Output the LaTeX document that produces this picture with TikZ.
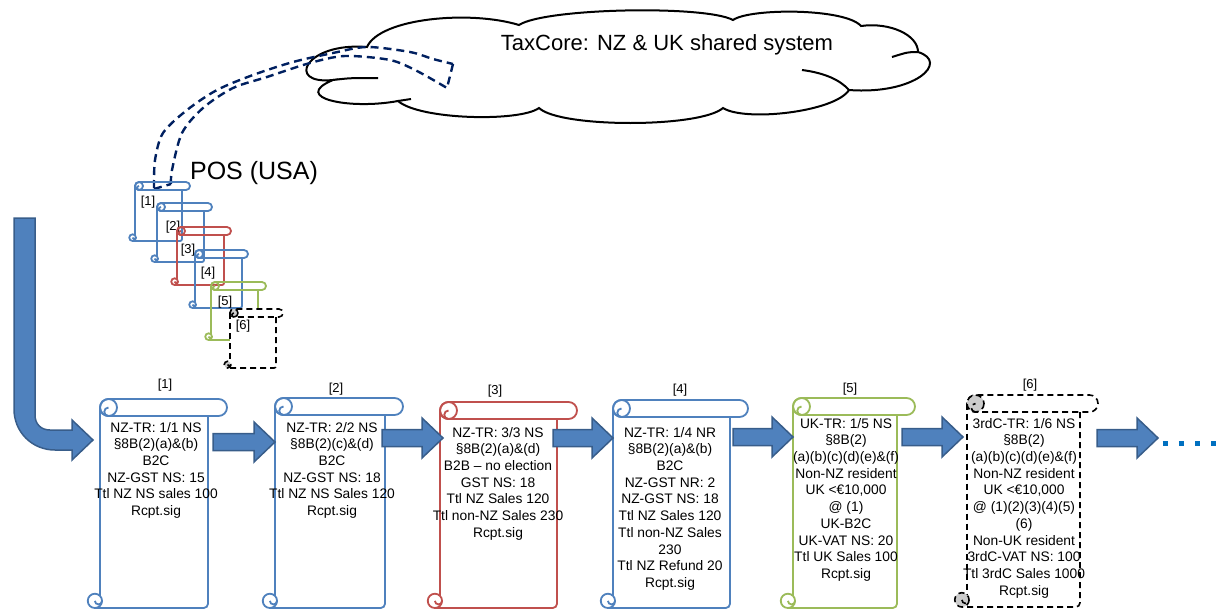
\documentclass[tikz,border=0pt]{standalone}
\usepackage{fontspec}
\setmainfont{Liberation Sans}
\usetikzlibrary{calc}
\definecolor{sblue}{RGB}{79,129,189}
\definecolor{sred}{RGB}{192,80,77}
\definecolor{sgreen}{RGB}{155,187,89}
\definecolor{aborder}{RGB}{56,93,138}
\definecolor{navy}{RGB}{0,32,96}
\definecolor{dotblue}{RGB}{0,112,192}
% #1 draw style, #2 fill, #3 L, #4 R (roll right), #5 B (body right), #6 T, #7 Bo, #8 h, #9 curl fill
\newcommand\myscroll[9]{%
  \pgfmathsetmacro\sr{#8/2}%
  \pgfmathsetmacro\rc{0.42*#8}%
  \pgfmathsetmacro\co{0.3*#8}%
  \pgfmathsetmacro\rb{0.25*#8}%
  \pgfmathsetmacro\ye{#7-\rc-sqrt(\rc*\rc-\co*\co)}%
  \path[fill=#2] ({#3},{#6+\sr}) rectangle ({#5},{#7});
  \path[fill=#2,rounded corners=\sr pt] ({#3},{#6}) rectangle ({#4},{#6+#8});
  \draw[#1,rounded corners=\rb pt] ({#5},{#6+#8}) -- ({#5},{#7}) -- ({#3-\co},{#7});
  \draw[#1] ({#3},{#6+\sr}) -- ({#3},{\ye});
  \draw[#1,rounded corners=\sr pt] ({#3},{#6}) rectangle ({#4},{#6+#8});
  \draw[#1,fill=#9] ({#3+\sr},{#6+\sr}) circle[radius=\sr];
  \draw[#1] ({#3+\sr},{#6+#8}) arc[start angle=90,end angle=270,radius=\sr/2];
  \draw[#1,fill=#9] ({#3-\co},{#7-\rc}) circle[radius=\rc];
  \draw[#1] ({#3-\co},{#7-\rc}) arc[start angle=180,end angle=0,radius=\rc/2];
}
\newcommand\blockarrow[2]{%
  \draw[blockarr] ($(#1)+(0,-8.5)$) -- ($(#2)+(-21,-8.5)$) -- ($(#2)+(-21,-20)$) -- (#2)
    -- ($(#2)+(-21,20)$) -- ($(#2)+(-21,8.5)$) -- ($(#1)+(0,8.5)$) -- cycle;}
\begin{document}
\begin{tikzpicture}[x=1pt,y=-1pt,
  bsc/.style={draw=sblue,line width=1.8pt},
  rsc/.style={draw=sred,line width=1.8pt},
  gsc/.style={draw=sgreen,line width=1.8pt},
  dsc/.style={draw=black,line width=1.6pt,dash pattern=on 6pt off 4pt},
  blockarr/.style={fill=sblue,draw=aborder,line width=1.5pt,line join=miter},
  stext/.style={font=\fontsize{13.8}{16.7}\selectfont,align=center,inner sep=0pt,anchor=north},
  lbl/.style={font=\fontsize{13}{15}\selectfont,inner sep=0pt},
  cloudst/.style={draw=black,line width=2pt},
  navyd/.style={draw=navy,line width=2.4pt,dash pattern=on 8pt off 5pt}]
\useasboundingbox (0,0) rectangle (1222,610);
% cloud
\coordinate (j1) at (333,80); \coordinate (j2) at (367,47); \coordinate (j3) at (519,25);
\coordinate (j4) at (733,20); \coordinate (j5) at (861,26); \coordinate (j6) at (918,52);
\coordinate (j7) at (849,90); \coordinate (j8) at (723,108); \coordinate (j9) at (539,108);
\coordinate (j10) at (398,101);
\draw[cloudst,fill=white] (j1) .. controls (285,85) and (305,42) .. (j2)
  .. controls (380,18) and (470,10) .. (j3)
  .. controls (545,8) and (705,5) .. (j4)
  .. controls (750,8) and (845,8) .. (j5)
  .. controls (890,22) and (918,35) .. (j6)
  .. controls (950,62) and (915,95) .. (j7)
  .. controls (835,112) and (745,122) .. (j8)
  .. controls (700,128) and (560,128) .. (j9)
  .. controls (520,122) and (420,120) .. (j10)
  .. controls (350,110) and (290,98) .. (j1) -- cycle;
\draw[cloudst] (j1) .. controls (350,78) .. (378,78);
\draw[cloudst] (j10) -- (411,99);
\draw[cloudst] (j7) .. controls (840,80) and (825,73) .. (802,70);
\draw[cloudst] (j6) .. controls (908,52) .. (892,57);
\node[font=\fontsize{22}{26}\selectfont,inner sep=0pt] (tc) at (667,45) {TaxCore: NZ \& UK shared system};
% dashed curved arrow
\draw[navyd] plot[smooth] coordinates {(154,188) (155,160) (163,133) (187,110) (217,90) (253,75) (293,62) (333,53) (367,47) (410,52) (433,59) (453,64)};
\draw[navyd] plot[smooth] coordinates {(171,184) (172,170) (182,133) (203,108) (233,88) (267,77) (310,63) (345,56) (390,60) (417,71) (447,88)};
\draw[navyd] (453,64) -- (447,88);
\draw[navyd] (154,189) -- (171,184);
\node[font=\fontsize{25}{30}\selectfont,inner sep=0pt] (pos) at (254,173) {POS (USA)};
% small scroll stack
\myscroll{bsc}{none}{135}{190}{182}{182}{241}{8}{none}
\node[lbl] (sl1) at (148,202) {[1]};
\myscroll{bsc}{none}{157}{212}{204}{203}{262}{8}{none}
\node[lbl] (sl2) at (173,227) {[2]};
\myscroll{rsc}{none}{177}{231}{224}{227}{285}{8}{none}
\node[lbl] (sl3) at (188,250) {[3]};
\myscroll{bsc}{none}{195}{248}{242}{250}{308}{8}{none}
\node[lbl] (sl4) at (208,273) {[4]};
\myscroll{gsc}{none}{211}{266}{258}{282}{340}{8}{none}
\node[lbl] (sl5) at (225,302) {[5]};
\myscroll{dsc}{white}{230}{283}{276}{309}{368}{8}{gray!40}
\node[lbl] (sl6) at (243,326) {[6]};
% main scrolls
\myscroll{bsc}{white}{100}{227}{208}{399}{608}{17}{none}
\node[lbl] (l1) at (165,385) {[1]};
\node[stext] (t1) at (156,420.3) {\strut NZ-TR: 1/1 NS\\ §8B(2)(a)\&(b)\\ B2C\\ NZ-GST NS: 15\\ Ttl NZ NS sales 100\\ Rcpt.sig};
\myscroll{bsc}{white}{275}{403}{385}{398}{608}{17}{none}
\node[lbl] (l2) at (336,389) {[2]};
\node[stext] (t2) at (332,420.3) {\strut NZ-TR: 2/2 NS\\ §8B(2)(c)\&(d)\\ B2C\\ NZ-GST NS: 18\\ Ttl NZ NS Sales 120\\ Rcpt.sig};
\myscroll{rsc}{white}{440}{577}{557}{402}{608}{17}{none}
\node[lbl] (l3) at (495,391) {[3]};
\node[stext] (t3) at (498,425.3) {\strut NZ-TR: 3/3 NS\\ §8B(2)(a)\&(d)\\ B2B – no election\\ GST NS: 18\\ Ttl NZ Sales 120\\ Ttl non-NZ Sales 230\\ Rcpt.sig};
\myscroll{bsc}{white}{613}{748}{730}{400}{608}{17}{none}
\node[lbl] (l4) at (680,390) {[4]};
\node[stext] (t4) at (670,425.3) {\strut NZ-TR: 1/4 NR\\ §8B(2)(a)\&(b)\\ B2C\\ NZ-GST NR: 2\\ NZ-GST NS: 18\\ Ttl NZ Sales 120\\ Ttl non-NZ Sales\\ 230\\ Ttl NZ Refund 20\\ Rcpt.sig};
\myscroll{gsc}{white}{793}{915}{897}{398}{608}{17}{none}
\node[lbl] (l5) at (850,389) {[5]};
\node[stext] (t5) at (846,416.3) {\strut UK-TR: 1/5 NS\\ §8B(2)\\ (a)(b)(c)(d)(e)\&(f)\\ Non-NZ resident\\ UK <€10,000\\ @ (1)\\ UK-B2C\\ UK-VAT NS: 20\\ Ttl UK Sales 100\\ Rcpt.sig};
\myscroll{dsc}{white}{967}{1098}{1080}{395}{607}{17}{gray!40}
\node[lbl] (l6) at (1030,385) {[6]};
\node[stext] (t6) at (1024,416.3) {\strut 3rdC-TR: 1/6 NS\\ §8B(2)\\ (a)(b)(c)(d)(e)\&(f)\\ Non-NZ resident\\ UK <€10,000\\ @ (1)(2)(3)(4)(5)\\ (6)\\ Non-UK resident\\ 3rdC-VAT NS: 100\\ Ttl 3rdC Sales 1000\\ Rcpt.sig};
% L-shaped arrow
\coordinate (l0tip) at (93,440);
\draw[blockarr] (14,218) -- (35,218) -- (35,415) .. controls (35,424) and (41,430) .. (50,430) -- (72,430) -- (72,420)
  -- (l0tip) -- (72,460) -- (72,450) -- (55,450) .. controls (32,450) and (14,432) .. (14,409) -- cycle;
% horizontal arrows
\coordinate (a1s) at (213,442); \coordinate (a1e) at (275,442);
\coordinate (a2s) at (382,438); \coordinate (a2e) at (443,438);
\coordinate (a3s) at (553,438); \coordinate (a3e) at (613,438);
\coordinate (a4s) at (733,437); \coordinate (a4e) at (793,437);
\coordinate (a5s) at (902,437); \coordinate (a5e) at (963,437);
\coordinate (a6s) at (1097,438); \coordinate (a6e) at (1158,438);
\blockarrow{a1s}{a1e}
\blockarrow{a2s}{a2e}
\blockarrow{a3s}{a3e}
\blockarrow{a4s}{a4e}
\blockarrow{a5s}{a5e}
\blockarrow{a6s}{a6e}
\coordinate (ds) at (1162.5,443); \coordinate (de) at (1222,443);
\draw[dotblue,line width=5pt,dash pattern=on 5pt off 11.3pt] (ds) -- (de);
\end{tikzpicture}
\end{document}
